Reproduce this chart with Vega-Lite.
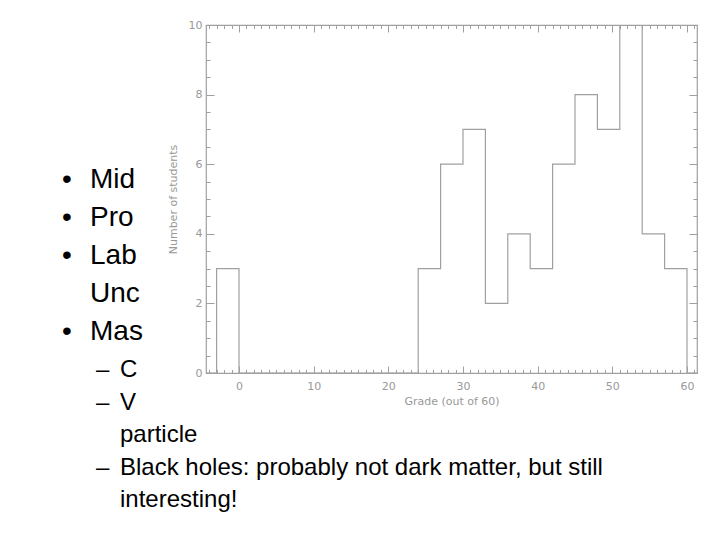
{
  "$schema": "https://vega.github.io/schema/vega-lite/v6.json",
  "autosize": "none",
  "width": 491,
  "height": 348,
  "padding": {"left": 206, "top": 25, "right": 23, "bottom": 167},
  "background": "white",
  "datasets": {
    "hist": [
      {"grade": -6, "students": 0},
      {"grade": -3, "students": 3},
      {"grade": 0, "students": 0},
      {"grade": 3, "students": 0},
      {"grade": 6, "students": 0},
      {"grade": 9, "students": 0},
      {"grade": 12, "students": 0},
      {"grade": 15, "students": 0},
      {"grade": 18, "students": 0},
      {"grade": 21, "students": 0},
      {"grade": 24, "students": 3},
      {"grade": 27, "students": 6},
      {"grade": 30, "students": 7},
      {"grade": 33, "students": 2},
      {"grade": 36, "students": 4},
      {"grade": 39, "students": 3},
      {"grade": 42, "students": 6},
      {"grade": 45, "students": 8},
      {"grade": 48, "students": 7},
      {"grade": 51, "students": 10},
      {"grade": 54, "students": 4},
      {"grade": 57, "students": 3},
      {"grade": 60, "students": 0},
      {"grade": 63, "students": 0}
    ],
    "slide": [
      {"line": 1, "level": 1, "marker": "•", "text": "Mid"},
      {"line": 2, "level": 1, "marker": "•", "text": "Pro"},
      {"line": 3, "level": 1, "marker": "•", "text": "Lab"},
      {"line": 4, "level": 1, "marker": "", "text": "Unc"},
      {"line": 5, "level": 1, "marker": "•", "text": "Mas"},
      {"line": 6, "level": 2, "marker": "–", "text": "C"},
      {"line": 7, "level": 2, "marker": "–", "text": "V"},
      {"line": 8, "level": 2, "marker": "", "text": "particle"},
      {"line": 9, "level": 2, "marker": "–", "text": "Black holes: probably not dark matter, but still"},
      {"line": 10, "level": 2, "marker": "", "text": "interesting!"}
    ]
  },
  "layer": [
    {
      "data": {"name": "hist"},
      "mark": {"type": "line", "interpolate": "step-after", "color": "#a0a0a0", "strokeWidth": 1.2, "clip": true},
      "encoding": {
        "x": {
          "field": "grade", "type": "quantitative",
          "scale": {"domain": [-4.42, 61.34], "nice": false, "zero": false},
          "axis": {
            "orient": "bottom", "values": [0, 10, 20, 30, 40, 50, 60],
            "tickSize": -7, "tickColor": "#a0a0a0", "domain": false, "grid": false,
            "labelPadding": 14, "labelFont": "DejaVu Sans", "labelFontSize": 11, "labelColor": "#999999",
            "title": "Grade (out of 60)", "titleFont": "DejaVu Sans", "titleFontSize": 11,
            "titleFontWeight": "normal", "titleColor": "#999999", "titlePadding": 4
          }
        },
        "y": {
          "field": "students", "type": "quantitative",
          "scale": {"domain": [0, 10], "nice": false},
          "axis": {
            "orient": "left", "values": [0, 2, 4, 6, 8, 10],
            "tickSize": -8, "tickColor": "#a0a0a0", "domain": false, "grid": false,
            "labelPadding": 12, "labelFont": "DejaVu Sans", "labelFontSize": 11, "labelColor": "#999999",
            "title": "Number of students", "titleFont": "DejaVu Sans", "titleFontSize": 11,
            "titleFontWeight": "normal", "titleColor": "#999999", "titlePadding": 10
          }
        }
      }
    },
    {
      "data": {"name": "hist"},
      "mark": {"type": "line", "interpolate": "step-after", "strokeOpacity": 0, "clip": true},
      "encoding": {
        "x": {
          "field": "grade", "type": "quantitative",
          "scale": {"domain": [-4.42, 61.34], "nice": false, "zero": false},
          "axis": {
            "orient": "bottom",
            "values": [-4, -3, -2, -1, 0, 1, 2, 3, 4, 5, 6, 7, 8, 9, 10, 11, 12, 13, 14, 15, 16, 17, 18, 19, 20, 21, 22, 23, 24, 25, 26, 27, 28, 29, 30, 31, 32, 33, 34, 35, 36, 37, 38, 39, 40, 41, 42, 43, 44, 45, 46, 47, 48, 49, 50, 51, 52, 53, 54, 55, 56, 57, 58, 59, 60, 61],
            "tickSize": -3.5, "tickColor": "#a0a0a0", "domain": false, "grid": false, "labels": false, "title": null
          }
        },
        "y": {
          "field": "students", "type": "quantitative",
          "scale": {"domain": [0, 10], "nice": false},
          "axis": {
            "orient": "left",
            "values": [0, 0.5, 1, 1.5, 2, 2.5, 3, 3.5, 4, 4.5, 5, 5.5, 6, 6.5, 7, 7.5, 8, 8.5, 9, 9.5, 10],
            "tickSize": -4, "tickColor": "#a0a0a0", "domain": false, "grid": false, "labels": false, "title": null
          }
        }
      }
    },
    {
      "data": {"name": "hist"},
      "mark": {"type": "line", "interpolate": "step-after", "strokeOpacity": 0, "clip": true},
      "encoding": {
        "x": {
          "field": "grade", "type": "quantitative",
          "scale": {"domain": [-4.42, 61.34], "nice": false, "zero": false},
          "axis": {
            "orient": "top", "values": [0, 10, 20, 30, 40, 50, 60],
            "tickSize": -7, "tickColor": "#a0a0a0", "domain": false, "grid": false, "labels": false, "title": null
          }
        },
        "y": {
          "field": "students", "type": "quantitative",
          "scale": {"domain": [0, 10], "nice": false},
          "axis": {
            "orient": "right", "values": [0, 2, 4, 6, 8, 10],
            "tickSize": -8, "tickColor": "#a0a0a0", "domain": false, "grid": false, "labels": false, "title": null
          }
        }
      }
    },
    {
      "data": {"name": "hist"},
      "mark": {"type": "line", "interpolate": "step-after", "strokeOpacity": 0, "clip": true},
      "encoding": {
        "x": {
          "field": "grade", "type": "quantitative",
          "scale": {"domain": [-4.42, 61.34], "nice": false, "zero": false},
          "axis": {
            "orient": "top",
            "values": [-4, -3, -2, -1, 0, 1, 2, 3, 4, 5, 6, 7, 8, 9, 10, 11, 12, 13, 14, 15, 16, 17, 18, 19, 20, 21, 22, 23, 24, 25, 26, 27, 28, 29, 30, 31, 32, 33, 34, 35, 36, 37, 38, 39, 40, 41, 42, 43, 44, 45, 46, 47, 48, 49, 50, 51, 52, 53, 54, 55, 56, 57, 58, 59, 60, 61],
            "tickSize": -3.5, "tickColor": "#a0a0a0", "domain": false, "grid": false, "labels": false, "title": null
          }
        },
        "y": {
          "field": "students", "type": "quantitative",
          "scale": {"domain": [0, 10], "nice": false},
          "axis": {
            "orient": "right",
            "values": [0, 0.5, 1, 1.5, 2, 2.5, 3, 3.5, 4, 4.5, 5, 5.5, 6, 6.5, 7, 7.5, 8, 8.5, 9, 9.5, 10],
            "tickSize": -4, "tickColor": "#a0a0a0", "domain": false, "grid": false, "labels": false, "title": null
          }
        }
      }
    },
    {
      "data": {"name": "slide"},
      "mark": {"type": "text", "align": "left", "baseline": "alphabetic", "font": "Liberation Sans", "color": "black", "clip": false},
      "encoding": {
        "x": {"field": "level", "type": "quantitative", "scale": {"domain": [1, 2], "range": [-116, -86]}, "axis": null},
        "y": {"field": "line", "type": "quantitative", "scale": {"domain": [1, 5, 6, 10], "range": [163, 315, 352, 482]}, "axis": null},
        "size": {"field": "level", "type": "quantitative", "scale": {"domain": [1, 2], "range": [28, 24]}, "legend": null},
        "text": {"field": "text"}
      }
    },
    {
      "data": {"name": "slide"},
      "mark": {"type": "text", "align": "left", "baseline": "alphabetic", "font": "Liberation Sans", "color": "black", "clip": false},
      "encoding": {
        "x": {"field": "level", "type": "quantitative", "scale": {"domain": [1, 2], "range": [-144, -110]}, "axis": null},
        "y": {"field": "line", "type": "quantitative", "scale": {"domain": [1, 5, 6, 10], "range": [163, 315, 352, 482]}, "axis": null},
        "size": {"field": "level", "type": "quantitative", "scale": {"domain": [1, 2], "range": [28, 24]}, "legend": null},
        "text": {"field": "marker"}
      }
    }
  ],
  "resolve": {
    "scale": {"x": "independent", "y": "independent", "size": "independent"},
    "axis": {"x": "independent", "y": "independent"}
  },
  "config": {
    "view": {"stroke": "#a0a0a0", "strokeWidth": 1.2}
  }
}
